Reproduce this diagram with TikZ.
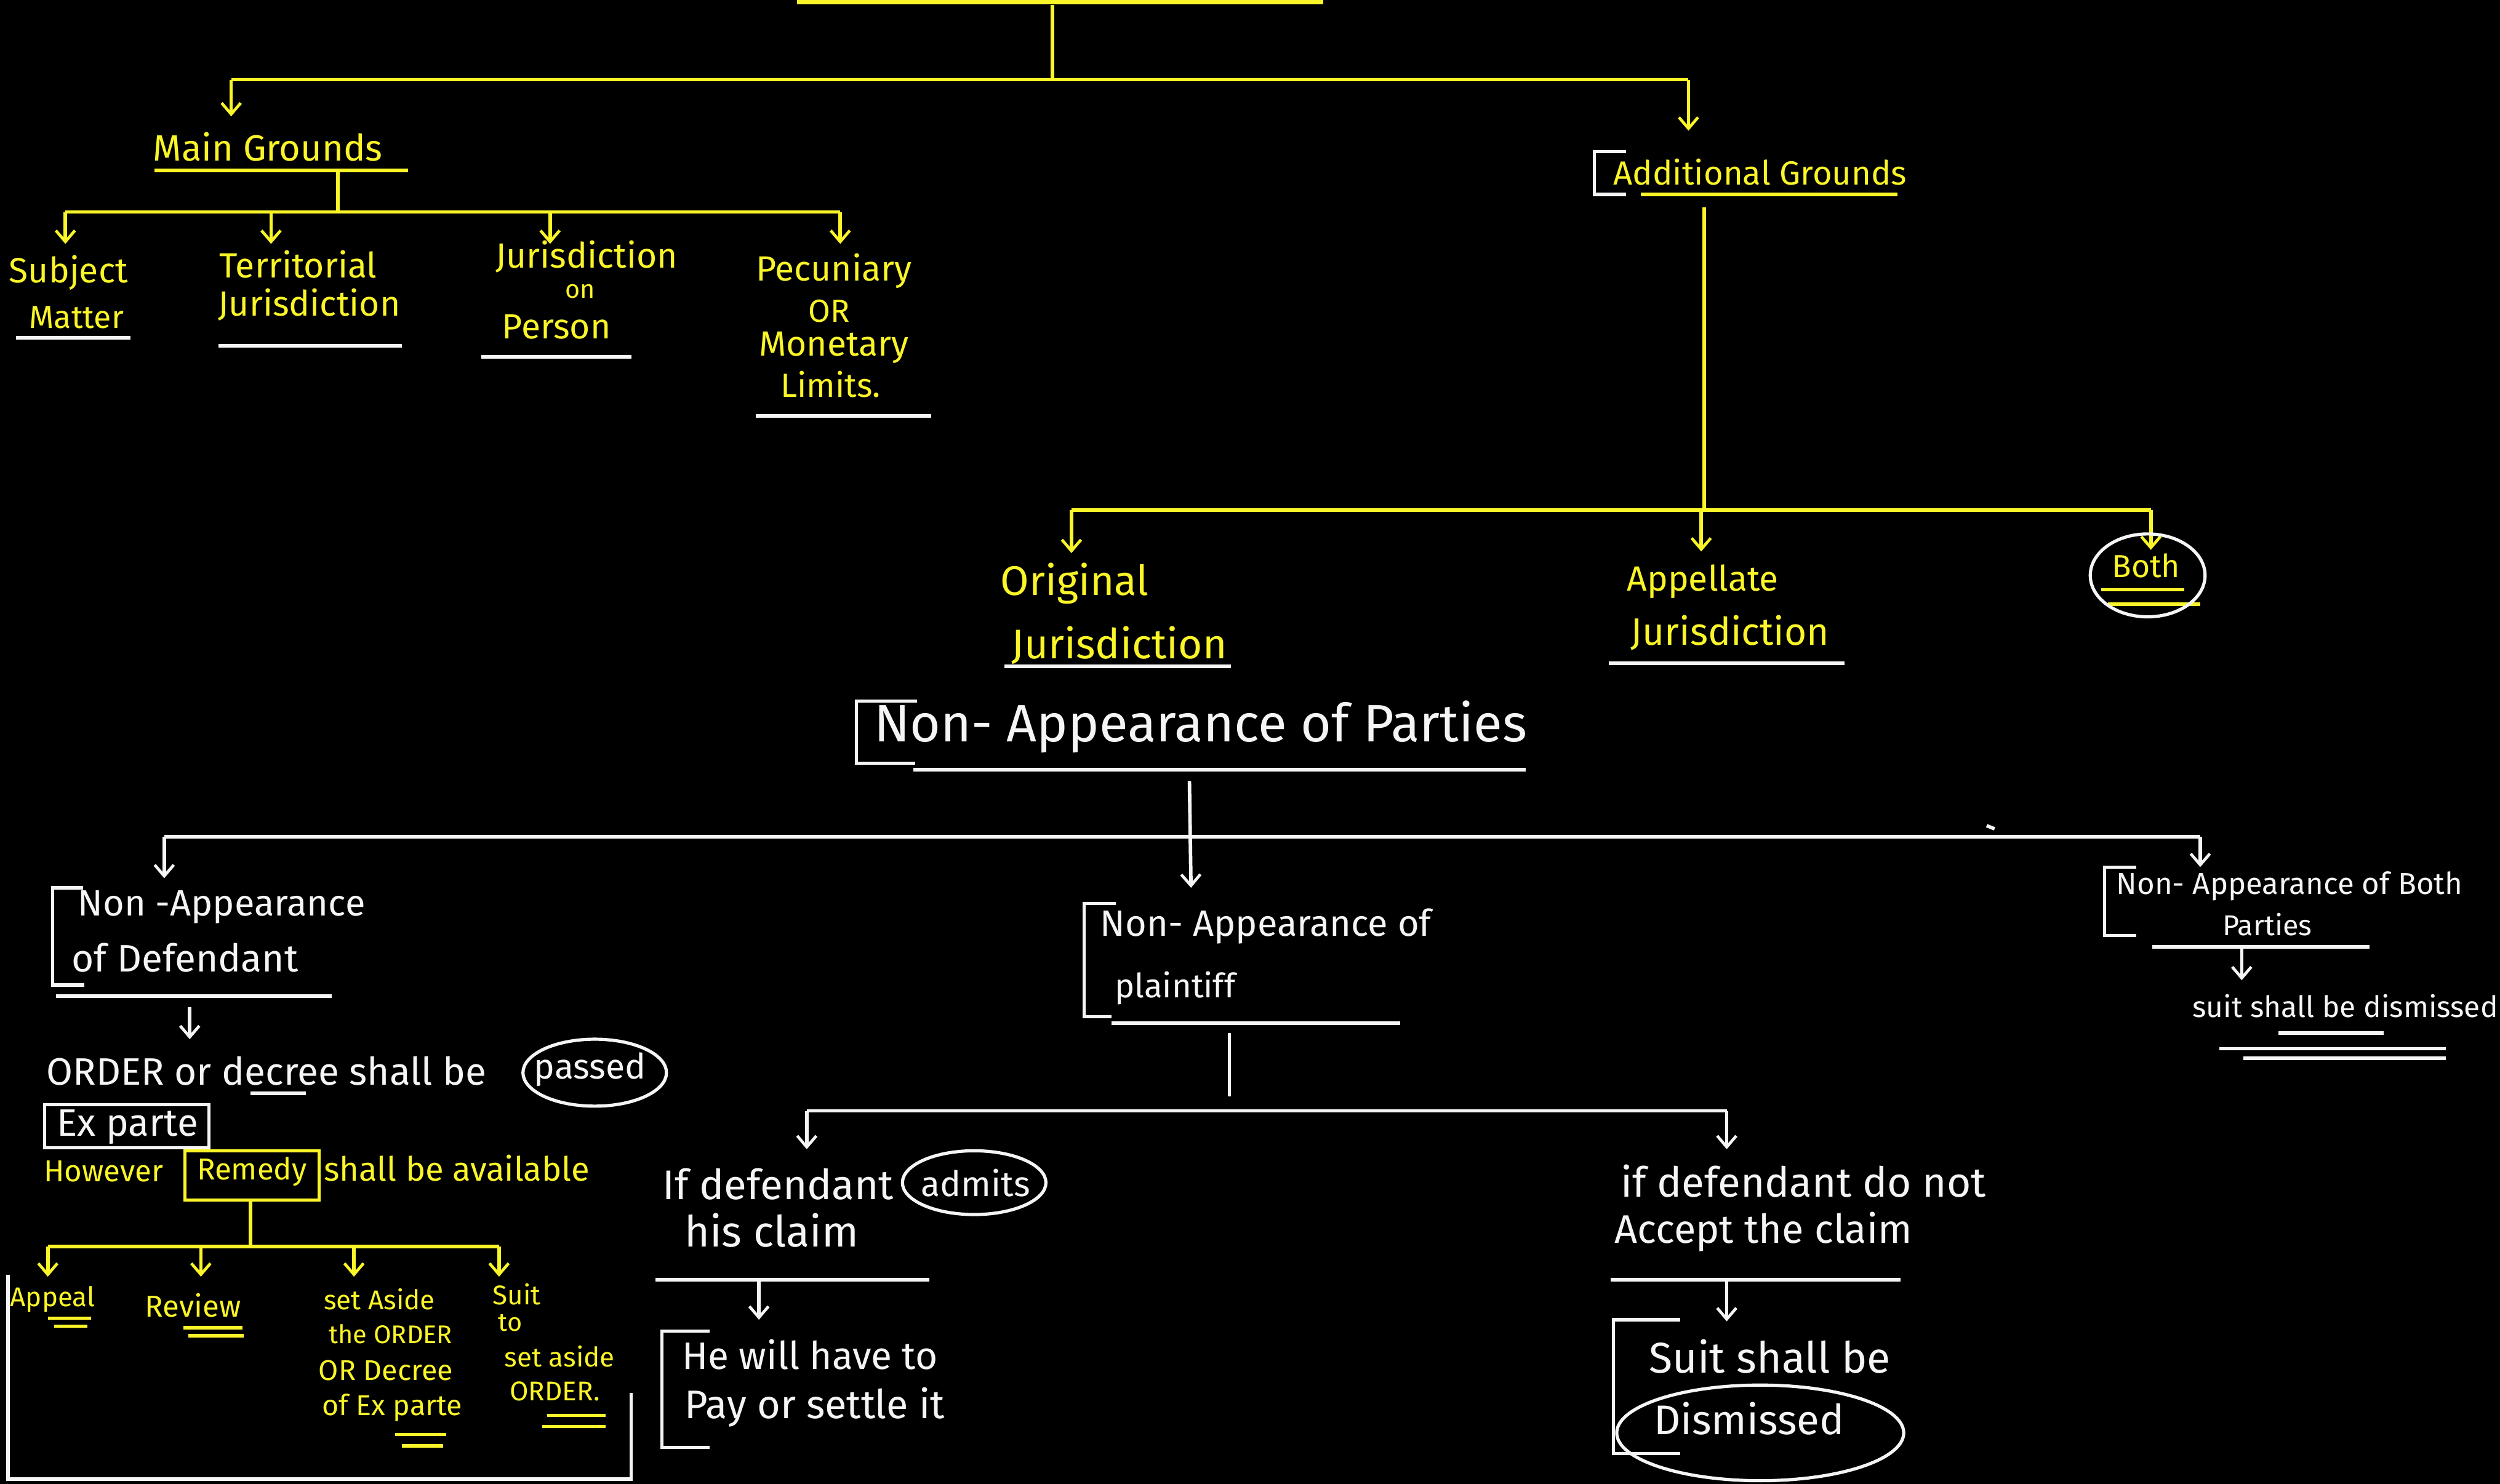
\documentclass[tikz,border=0pt]{standalone}
\usepackage{fontspec}
\setmainfont{Fira Sans}
\usetikzlibrary{arrows.meta}
\definecolor{hy}{RGB}{250,245,40}
\definecolor{hw}{RGB}{245,245,245}
\newcommand\myfs[1]{\fontsize{#1}{#1}\selectfont}
\tikzset{
  yl/.style={draw=hy, line width=2.2pt},
  wl/.style={draw=hw, line width=2.2pt},
  brk/.style={draw=hw, line width=2pt},
  arr/.style={-{Straight Barb[length=7pt,width=12pt,line width=1.8pt]}},
  yt/.style={text=hy, inner sep=0pt},
  wt/.style={text=hw, inner sep=0pt},
}
\begin{document}
\begin{tikzpicture}[x=1pt,y=-1pt]
\fill[black] (0,0) rectangle (1568,931);
\useasboundingbox (0,0) rectangle (1568,931);
\clip (0,0) rectangle (1568,931);

% ---------- top yellow part ----------
\coordinate (tbL) at (500,1); \coordinate (tbR) at (830,1);
\draw[yl, line width=3.5pt] (tbL) -- (tbR);
\coordinate (t0) at (660,3);
\coordinate (j0) at (660,50);
\coordinate (h0L) at (145,50); \coordinate (h0R) at (1059,50);
\draw[yl] (t0) -- (j0);
\draw[yl] (h0L) -- (h0R);
\coordinate (a0L) at (145,73); \coordinate (a0R) at (1059,82);
\draw[yl,arr] (h0L) -- (a0L);
\draw[yl,arr] (h0R) -- (a0R);

% Main Grounds
\node[yt, font=\myfs{23}] (mg) at (168,92) {Main Grounds};
\coordinate (mgu1) at (97,107); \coordinate (mgu2) at (256,107);
\draw[yl] (mgu1) -- (mgu2);
\coordinate (mgs) at (212,107); \coordinate (mgj) at (212,133);
\draw[yl] (mgs) -- (mgj);
\coordinate (h1L) at (41,133); \coordinate (h1R) at (527,133);
\draw[yl] (h1L) -- (h1R);
\foreach \x/\n in {41/s1,170/s2,345/s3,527/s4}{
  \coordinate (\n top) at (\x,133); \coordinate (\n end) at (\x,153);
  \draw[yl,arr] (\n top) -- (\n end);
}
\node[yt, font=\myfs{22}] (subj) at (43,171) {Subject};
\node[yt, font=\myfs{20}] (matt) at (48,199) {Matter};
\draw[wl] (10,212) -- (82,212);
\node[yt, font=\myfs{22}] (terr) at (187,166) {Territorial};
\node[yt, font=\myfs{22}] (tjur) at (194,191) {Jurisdiction};
\draw[wl] (137,217) -- (252,217);
\node[yt, font=\myfs{22}] (pjur) at (368,161) {Jurisdiction};
\node[yt, font=\myfs{16}] (pon) at (364,183) {on};
\node[yt, font=\myfs{22}] (pper) at (349,205) {Person};
\draw[wl] (302,224) -- (396,224);
\node[yt, font=\myfs{22}] (pec) at (523,170) {Pecuniary};
\node[yt, font=\myfs{20}] (por) at (520,195) {OR};
\node[yt, font=\myfs{22}] (pmon) at (523,218) {Monetary};
\node[yt, font=\myfs{21}] (plim) at (521,241) {Limits.};
\draw[wl] (474,261) -- (584,261);

% Additional Grounds
\draw[brk] (1020,95) -- (1000,95) -- (1000,122) -- (1020,122);
\node[yt, font=\myfs{21}] (ag) at (1104,108) {Additional Grounds};
\draw[yl] (1029,122) -- (1190,122);
\coordinate (ags) at (1069,130); \coordinate (agj) at (1069,320);
\draw[yl] (ags) -- (agj);
\coordinate (h2L) at (672,320); \coordinate (h2R) at (1349,320);
\draw[yl] (h2L) -- (h2R);
\coordinate (h2M) at (1067,320);
\coordinate (a2L) at (672,347); \coordinate (a2M) at (1067,346); \coordinate (a2R) at (1349,345);
\draw[yl,arr] (h2L) -- (a2L);
\draw[yl,arr] (h2M) -- (a2M);
\draw[yl,arr] (h2R) -- (a2R);
\node[yt, font=\myfs{26}] (orig) at (674,366) {Original};
\node[yt, font=\myfs{26}] (ojur) at (702,405) {Jurisdiction};
\draw[wl] (630,418) -- (772,418);
\node[yt, font=\myfs{22}] (appl) at (1068,365) {Appellate};
\node[yt, font=\myfs{24}] (ajur) at (1085,397) {Jurisdiction};
\draw[wl] (1009,416) -- (1157,416);
\node[yt, font=\myfs{20}] (both) at (1346,355) {Both};
\draw[yl] (1318,370) -- (1370,370);
\draw[yl] (1322,379) -- (1380,379);
\draw[brk] (1347,361) ellipse [x radius=36, y radius=26];

% ---------- white part ----------
\draw[brk] (575,440) -- (537,440) -- (537,479) -- (574,479);
\node[wt, font=\myfs{33}] (nap) at (753,456) {Non- Appearance of Parties};
\draw[wl] (573,483) -- (957,483);
\coordinate (naps) at (746,490); \coordinate (napj) at (746,525);
\coordinate (a3M) at (747,557);
\draw[wl,arr] (naps) -- (a3M);
\coordinate (h3L) at (103,525); \coordinate (h3R) at (1380,525);
\draw[wl] (h3L) -- (h3R);
\coordinate (a3L) at (103,551); \coordinate (a3R) at (1380,544);
\draw[wl,arr] (h3L) -- (a3L);
\draw[wl,arr] (h3R) -- (a3R);
\draw[wl] (1246,518) -- (1251,520);

% Defendant branch
\draw[brk] (52,557) -- (33,557) -- (33,618) -- (53,618);
\node[wt, font=\myfs{23}] (nd1) at (139,569) {Non -Appearance};
\node[wt, font=\myfs{24}] (nd2) at (116,601) {of Defendant};
\draw[wl] (35,625) -- (208,625);
\coordinate (nds) at (119,632); \coordinate (nde) at (119,652);
\draw[wl,arr] (nds) -- (nde);
\node[wt, font=\myfs{24}, anchor=west] (ord) at (29,672) {ORDER or decree shall be};
\node[wt, font=\myfs{22}] (pass) at (370,671) {passed};
\draw[brk] (373,673) ellipse [x radius=45, y radius=21];
\draw[wl] (157,686) -- (192,686);
\node[wt, font=\myfs{24}] (exp) at (80,707) {Ex parte};
\draw[brk] (28,693) rectangle (131,720);
\node[yt, font=\myfs{19}] (how) at (65,735) {However};
\node[yt, font=\myfs{19}] (rem) at (158,735) {Remedy};
\draw[hy, line width=2pt] (116,722) rectangle (200,753);
\node[yt, font=\myfs{21}, anchor=west] (avl) at (203,733) {shall be available};
\coordinate (rems) at (157,753); \coordinate (remj) at (157,782);
\draw[yl] (rems) -- (remj);
\coordinate (h4L) at (30,782); \coordinate (h4R) at (313,782);
\draw[yl] (h4L) -- (h4R);
\foreach \x/\n in {30/r1,126/r2,222/r3,313/r4}{
  \coordinate (\n top) at (\x,782); \coordinate (\n end) at (\x,801);
  \draw[yl,arr] (\n top) -- (\n end);
}
\node[yt, font=\myfs{17}] (app) at (33,815) {Appeal};
\draw[yl] (30,827) -- (57,827); \draw[yl] (34,832) -- (55,832);
\node[yt, font=\myfs{19}] (rev) at (121,819) {Review};
\draw[yl] (115,833) -- (152,833); \draw[yl] (118,838) -- (153,838);
\node[yt, font=\myfs{17}] (sa1) at (238,815) {set Aside};
\node[yt, font=\myfs{16}] (sa2) at (245,837) {the ORDER};
\node[yt, font=\myfs{18}] (sa3) at (242,860) {OR Decree};
\node[yt, font=\myfs{18}] (sa4) at (246,883) {of Ex parte};
\draw[yl] (248,900) -- (280,900); \draw[yl] (252,907) -- (278,907);
\node[yt, font=\myfs{17}] (su1) at (324,812) {Suit};
\node[yt, font=\myfs{16}] (su2) at (320,830) {to};
\node[yt, font=\myfs{17}] (su3) at (351,851) {set aside};
\node[yt, font=\myfs{17}] (su4) at (348,873) {ORDER.};
\draw[yl] (343,888) -- (380,888); \draw[yl] (340,895) -- (380,895);
\draw[brk] (5,800) -- (5,928) -- (396,928) -- (396,874);

% Plaintiff branch
\draw[brk] (700,567) -- (680,567) -- (680,638) -- (697,638);
\node[wt, font=\myfs{23}] (np1) at (794,581) {Non- Appearance of};
\node[wt, font=\myfs{21}] (np2) at (737,620) {plaintiff};
\draw[wl] (697,642) -- (878,642);
\coordinate (nps) at (771,648); \coordinate (npe) at (771,688);
\draw[wl] (nps) -- (npe);
\coordinate (h5L) at (506,697); \coordinate (h5R) at (1083,697);
\draw[wl] (h5L) -- (h5R);
\coordinate (a5L) at (506,721); \coordinate (a5R) at (1083,721);
\draw[wl,arr] (h5L) -- (a5L);
\draw[wl,arr] (h5R) -- (a5R);
\node[wt, font=\myfs{26}] (ifd) at (488,743) {If defendant};
\node[wt, font=\myfs{22}] (adm) at (612,742) {admits};
\draw[brk] (611,742) ellipse [x radius=45, y radius=20];
\node[wt, font=\myfs{27}] (his) at (484,772) {his claim};
\draw[wl] (411,803) -- (583,803);
\coordinate (ifs) at (476,803); \coordinate (ife) at (476,828);
\draw[wl,arr] (ifs) -- (ife);
\draw[brk] (445,835) -- (415,835) -- (415,908) -- (445,908);
\node[wt, font=\myfs{24}] (hw1) at (508,850) {He will have to};
\node[wt, font=\myfs{25}] (hw2) at (511,883) {Pay or settle it};

\node[wt, font=\myfs{26}] (dn1) at (1131,741) {if defendant do not};
\node[wt, font=\myfs{25}] (dn2) at (1106,773) {Accept the claim};
\draw[wl] (1010,803) -- (1192,803);
\coordinate (dns) at (1083,803); \coordinate (dne) at (1083,829);
\draw[wl,arr] (dns) -- (dne);
\draw[brk] (1054,828) -- (1012,828) -- (1012,912) -- (1054,912);
\node[wt, font=\myfs{27}] (sd1) at (1110,851) {Suit shall be};
\node[wt, font=\myfs{26}] (sd2) at (1097,890) {Dismissed};
\draw[brk] (1104,899) ellipse [x radius=90, y radius=30];

% Both parties branch
\draw[brk] (1340,544) -- (1320,544) -- (1320,587) -- (1340,587);
\node[wt, font=\myfs{19}] (nb1) at (1436,556) {Non- Appearance of Both};
\node[wt, font=\myfs{18}] (nb2) at (1422,580) {Parties};
\draw[wl] (1350,594) -- (1486,594);
\coordinate (nbs) at (1406,594); \coordinate (nbe) at (1406,615);
\draw[wl,arr] (nbs) -- (nbe);
\node[wt, font=\myfs{18.5}, anchor=west] (sbd) at (1375,631) {suit shall be dismissed};
\draw[wl] (1429,648) -- (1495,648);
\draw[wl] (1392,658) -- (1534,658);
\draw[wl] (1407,664) -- (1534,664);
\end{tikzpicture}
\end{document}
